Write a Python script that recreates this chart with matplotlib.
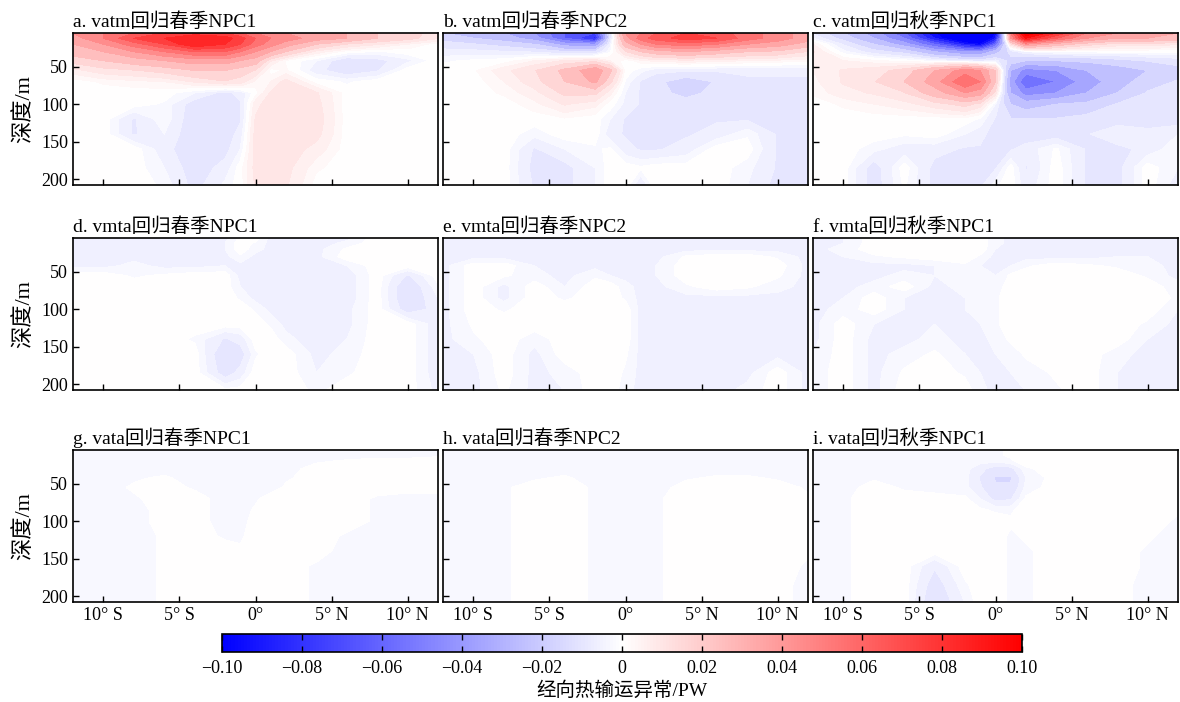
import numpy as np
import matplotlib.pyplot as plt
from matplotlib.colors import Normalize
from matplotlib.cm import ScalarMappable

plt.rcParams['font.family'] = ['Liberation Serif', 'Noto Sans CJK SC']
plt.rcParams['axes.unicode_minus'] = True

# 网格：纬度（负为南纬）和深度 (m)
lats = [-12, -10, -8, -6, -4, -2, -1, 0, 1, 2, 4, 6, 8, 10, 12]
depths = [5, 12, 20, 30, 42, 55, 70, 85, 100, 120, 140, 160, 185, 210]

titles = ['a. vatm回归春季NPC1', 'b. vatm回归春季NPC2', 'c. vatm回归秋季NPC1',
          'd. vmta回归春季NPC1', 'e. vmta回归春季NPC2', 'f. vmta回归秋季NPC1',
          'g. vata回归春季NPC1', 'h. vata回归春季NPC2', 'i. vata回归秋季NPC1']

xtick_vals = [-10, -5, 0, 5, 10]
xtick_labels = ['10° S', '5° S', '0°', '5° N', '10° N']
ytick_vals = [50, 100, 150, 200]
cbar_ticks = [-0.10, -0.08, -0.06, -0.04, -0.02, 0, 0.02, 0.04, 0.06, 0.08, 0.10]
cbar_labels = ['−0.10', '−0.08', '−0.06', '−0.04', '−0.02', '0',
               '0.02', '0.04', '0.06', '0.08', '0.10']

# a. vatm 春季 NPC1
vatm_spring_1 = [
    [0.04, 0.05, 0.06, 0.07, 0.075, 0.07, 0.06, 0.05, 0.045, 0.04, 0.035, 0.03, 0.02, 0.015, 0.01],
    [0.035, 0.05, 0.07, 0.08, 0.09, 0.085, 0.075, 0.06, 0.05, 0.045, 0.035, 0.03, 0.02, 0.015, 0.008],
    [0.03, 0.04, 0.055, 0.07, 0.09, 0.08, 0.07, 0.055, 0.045, 0.035, 0.02, 0.012, 0.008, 0.004, 0.0],
    [0.025, 0.03, 0.04, 0.05, 0.06, 0.06, 0.05, 0.04, 0.03, 0.02, 0.006, 0.0, -0.002, 0.0, 0.0],
    [0.015, 0.02, 0.025, 0.03, 0.035, 0.035, 0.03, 0.025, 0.008, 0.001, -0.004, -0.011, -0.009, -0.005, 0.0],
    [0.006, 0.01, 0.012, 0.015, 0.02, 0.02, 0.016, 0.012, 0.0, 0.002, -0.006, -0.011, -0.008, 0.0, 0.0],
    [0.0, 0.002, 0.003, 0.004, 0.008, 0.012, 0.01, 0.003, 0.004, 0.009, 0.0, -0.002, 0.0, 0.0, 0.0],
    [0.0, 0.0, 0.0, 0.0, -0.004, -0.009, -0.006, 0.0, 0.008, 0.01, 0.008, 0.0, 0.0, 0.0, 0.0],
    [0.0, 0.0, 0.0, -0.002, -0.01, -0.01, -0.008, 0.006, 0.01, 0.01, 0.009, 0.0, 0.0, 0.0, 0.0],
    [0.0, 0.0, -0.008, -0.002, -0.011, -0.01, -0.008, 0.008, 0.011, 0.011, 0.01, 0.0, 0.0, 0.0, 0.0],
    [0.0, 0.0, -0.008, -0.004, -0.011, -0.01, -0.006, 0.009, 0.011, 0.011, 0.009, 0.0, 0.0, 0.0, 0.0],
    [0.0, 0.0, 0.0, -0.006, -0.011, -0.009, -0.004, 0.009, 0.011, 0.01, 0.006, 0.0, 0.0, 0.0, 0.0],
    [0.0, 0.0, 0.0, -0.004, -0.01, -0.006, 0.0, 0.009, 0.01, 0.009, 0.002, 0.0, 0.0, 0.0, 0.0],
    [0.0, 0.0, 0.0, -0.002, -0.009, -0.003, 0.0, 0.008, 0.009, 0.008, 0.0, 0.0, 0.0, 0.0, 0.0],
]

# b. vatm 春季 NPC2
vatm_spring_2 = [
    [-0.02, -0.025, -0.03, -0.04, -0.06, -0.07, -0.01, 0.04, 0.05, 0.06, 0.07, 0.065, 0.055, 0.045, 0.035],
    [-0.015, -0.02, -0.025, -0.035, -0.06, -0.085, -0.01, 0.035, 0.055, 0.065, 0.075, 0.07, 0.055, 0.045, 0.035],
    [-0.01, -0.012, -0.015, -0.02, -0.035, -0.04, -0.005, 0.025, 0.04, 0.05, 0.055, 0.05, 0.04, 0.035, 0.025],
    [-0.006, -0.006, -0.007, -0.008, -0.012, -0.012, -0.002, 0.012, 0.02, 0.025, 0.03, 0.025, 0.02, 0.018, 0.012],
    [-0.002, -0.001, 0.0, 0.004, 0.008, 0.01, 0.004, 0.0, 0.003, 0.005, 0.006, 0.005, 0.004, 0.003, 0.002],
    [0.0, 0.001, 0.006, 0.012, 0.022, 0.038, 0.022, 0.0, -0.003, -0.006, -0.007, -0.007, -0.007, -0.007, -0.007],
    [0.0, 0.0, 0.004, 0.01, 0.02, 0.032, 0.014, -0.002, -0.008, -0.011, -0.016, -0.012, -0.008, -0.008, -0.008],
    [0.0, 0.0, 0.002, 0.006, 0.014, 0.014, 0.005, -0.004, -0.008, -0.009, -0.016, -0.009, -0.008, -0.008, -0.008],
    [0.0, 0.0, 0.0, 0.003, 0.008, 0.005, 0.0, -0.005, -0.008, -0.008, -0.008, -0.008, -0.008, -0.008, -0.008],
    [0.0, 0.0, 0.0, 0.0, 0.001, 0.0, -0.004, -0.008, -0.008, -0.008, -0.008, -0.008, -0.008, -0.008, -0.008],
    [0.0, 0.0, 0.0, -0.003, 0.0, 0.0, -0.006, -0.008, -0.008, -0.008, -0.008, -0.006, -0.002, -0.008, -0.008],
    [0.0, 0.0, 0.0, -0.008, -0.004, -0.002, -0.001, -0.006, -0.008, -0.008, -0.006, 0.0, 0.0, -0.008, -0.008],
    [0.0, 0.0, 0.0, -0.009, -0.009, -0.004, 0.0, 0.0, -0.001, 0.0, 0.0, 0.0, -0.003, -0.008, -0.008],
    [0.0, 0.0, 0.0, -0.008, -0.009, -0.004, 0.0, 0.0, -0.008, 0.0, 0.0, 0.0, -0.004, -0.009, -0.009],
]

# c. vatm 秋季 NPC1
vatm_autumn_1 = [
    [-0.008, -0.02, -0.035, -0.06, -0.1, -0.14, -0.15, -0.1, 0.05, 0.11, 0.08, 0.05, 0.04, 0.035, 0.03],
    [-0.004, -0.015, -0.03, -0.05, -0.09, -0.13, -0.14, -0.09, 0.04, 0.09, 0.06, 0.04, 0.03, 0.03, 0.025],
    [0.004, -0.008, -0.02, -0.035, -0.06, -0.09, -0.1, -0.06, 0.01, 0.04, 0.025, 0.015, 0.01, 0.01, 0.008],
    [0.008, -0.003, -0.01, -0.015, -0.03, -0.04, -0.04, -0.025, -0.01, -0.004, -0.001, -0.001, -0.001, -0.001, -0.001],
    [0.006, 0.004, 0.002, 0.0, -0.004, -0.008, -0.01, -0.006, -0.015, -0.02, -0.02, -0.018, -0.015, -0.012, -0.01],
    [0.004, 0.008, 0.01, 0.015, 0.03, 0.045, 0.04, 0.02, -0.03, -0.045, -0.04, -0.03, -0.025, -0.02, -0.015],
    [0.003, 0.008, 0.012, 0.02, 0.035, 0.06, 0.05, 0.02, -0.035, -0.06, -0.05, -0.035, -0.025, -0.015, -0.012],
    [0.002, 0.006, 0.008, 0.012, 0.025, 0.04, 0.035, 0.01, -0.03, -0.045, -0.04, -0.03, -0.02, -0.012, -0.01],
    [0.0, 0.002, 0.004, 0.006, 0.01, 0.015, 0.01, -0.004, -0.02, -0.025, -0.02, -0.018, -0.012, -0.01, -0.01],
    [0.0, 0.0, 0.0, 0.0, 0.0, 0.0, -0.002, -0.008, -0.012, -0.012, -0.012, -0.01, -0.01, -0.01, -0.01],
    [0.0, 0.0, 0.0, -0.001, 0.0, -0.004, -0.006, -0.01, -0.01, -0.01, -0.01, -0.008, -0.004, -0.006, -0.004],
    [0.0, 0.0, -0.003, -0.006, -0.006, -0.008, -0.008, -0.008, -0.008, -0.006, -0.001, -0.008, -0.009, -0.006, -0.002],
    [0.0, 0.0, -0.01, 0.0, -0.009, -0.009, -0.009, -0.008, 0.0, -0.008, 0.0, -0.008, -0.009, 0.0, -0.004],
    [0.0, 0.0, -0.01, -0.001, -0.009, -0.009, -0.008, -0.002, 0.0, -0.006, 0.0, -0.008, -0.009, 0.0, -0.006],
]

# d. vmta 春季 NPC1
vmta_spring_1 = [
    [-0.006, -0.006, -0.006, -0.006, -0.006, -0.005, -0.001, 0.0, -0.005, -0.006, -0.006, -0.005, 0.0, 0.0, 0.0],
    [-0.006, -0.006, -0.006, -0.006, -0.006, -0.004, 0.0, -0.002, -0.005, -0.006, -0.006, -0.003, 0.0, 0.0, 0.0],
    [-0.006, -0.006, -0.006, -0.006, -0.006, -0.004, 0.0, -0.003, -0.005, -0.006, -0.005, -0.001, 0.0, 0.0, 0.0],
    [-0.006, -0.006, -0.005, -0.006, -0.006, -0.005, -0.002, -0.005, -0.006, -0.006, -0.005, 0.0, 0.0, 0.0, 0.0],
    [-0.005, -0.005, -0.003, -0.005, -0.005, -0.004, -0.005, -0.006, -0.006, -0.006, -0.006, -0.004, 0.0, 0.0, 0.0],
    [0.0, 0.0, -0.002, -0.001, 0.0, 0.0, -0.005, -0.006, -0.006, -0.006, -0.006, -0.006, 0.0, -0.008, 0.0],
    [0.0, 0.0, 0.0, 0.0, 0.0, 0.0, -0.004, -0.006, -0.006, -0.006, -0.006, -0.006, 0.0, -0.012, -0.002],
    [0.0, 0.0, 0.0, 0.0, 0.0, 0.0, -0.002, -0.005, -0.006, -0.006, -0.006, -0.006, 0.0, -0.012, -0.004],
    [0.0, 0.0, 0.0, 0.0, 0.0, 0.0, 0.0, -0.002, -0.005, -0.006, -0.006, -0.005, 0.0, -0.01, -0.006],
    [0.0, 0.0, 0.0, 0.0, 0.0, 0.0, 0.0, 0.0, -0.002, -0.005, -0.006, -0.005, 0.0, 0.0, -0.006],
    [0.0, 0.0, 0.0, 0.0, -0.002, -0.008, -0.006, 0.0, 0.0, -0.003, -0.006, -0.004, 0.0, 0.0, -0.006],
    [0.0, 0.0, 0.0, 0.0, 0.0, -0.012, -0.01, -0.002, 0.0, 0.0, -0.005, -0.003, 0.0, 0.0, -0.006],
    [0.0, 0.0, 0.0, 0.0, 0.0, -0.01, -0.006, 0.0, 0.0, 0.0, -0.004, -0.002, 0.0, 0.0, -0.006],
    [0.0, 0.0, 0.0, 0.0, 0.0, 0.0, 0.0, 0.0, 0.0, 0.0, -0.002, 0.0, 0.0, 0.0, -0.005],
]

# e. vmta 春季 NPC2
vmta_spring_2 = [
    [-0.005, -0.005, -0.005, -0.005, -0.005, -0.005, -0.005, -0.005, -0.005, -0.005, -0.005, -0.005, -0.005, -0.005, -0.005],
    [-0.005, -0.005, -0.005, -0.005, -0.005, -0.005, -0.005, -0.005, -0.005, -0.005, -0.005, -0.005, -0.005, -0.005, -0.005],
    [-0.005, -0.005, -0.005, -0.005, -0.005, -0.005, -0.005, -0.005, -0.005, -0.005, -0.005, -0.005, -0.005, -0.005, -0.005],
    [-0.005, -0.005, -0.005, -0.005, -0.005, -0.005, -0.005, -0.005, -0.005, -0.005, -0.001, 0.0, 0.0, -0.002, -0.005],
    [-0.005, 0.0, 0.0, -0.004, -0.005, -0.005, -0.005, -0.005, -0.005, -0.004, 0.0, 0.0, 0.0, 0.0, -0.005],
    [-0.005, 0.0, -0.001, -0.003, -0.005, -0.002, -0.004, -0.005, -0.005, -0.004, 0.0, 0.0, 0.0, -0.001, -0.005],
    [-0.005, 0.0, -0.005, 0.0, -0.004, 0.0, 0.0, -0.003, -0.005, -0.005, -0.002, 0.0, -0.001, -0.003, -0.005],
    [-0.005, 0.0, -0.005, 0.0, -0.002, 0.0, 0.0, -0.002, -0.005, -0.005, -0.005, -0.005, -0.005, -0.005, -0.005],
    [-0.005, 0.0, -0.002, 0.0, 0.0, 0.0, 0.0, 0.0, -0.005, -0.005, -0.005, -0.005, -0.005, -0.005, -0.005],
    [-0.005, -0.001, 0.0, 0.0, 0.0, 0.0, 0.0, 0.0, -0.005, -0.005, -0.005, -0.005, -0.005, -0.005, -0.005],
    [-0.005, -0.002, 0.0, -0.003, 0.0, 0.0, 0.0, 0.0, -0.005, -0.005, -0.005, -0.005, -0.005, -0.005, -0.005],
    [-0.005, -0.004, 0.0, -0.005, 0.0, 0.0, 0.0, -0.001, -0.005, -0.005, -0.005, -0.005, -0.005, -0.005, -0.005],
    [-0.005, -0.005, 0.0, -0.005, -0.003, 0.0, 0.0, -0.002, -0.005, -0.005, -0.005, -0.005, -0.005, 0.0, -0.005],
    [-0.005, -0.005, -0.001, -0.005, -0.004, 0.0, 0.0, -0.003, -0.005, -0.005, -0.005, -0.005, -0.003, 0.0, -0.005],
]

# f. vmta 秋季 NPC1
vmta_autumn_1 = [
    [-0.005, -0.004, 0.0, 0.0, 0.0, 0.0, 0.0, -0.003, -0.005, -0.005, -0.005, -0.005, -0.005, -0.005, -0.005],
    [-0.005, -0.004, 0.0, 0.0, 0.0, 0.0, 0.0, -0.003, -0.005, -0.005, -0.005, -0.005, -0.005, -0.005, -0.005],
    [-0.005, -0.003, 0.0, 0.0, 0.0, 0.0, 0.0, -0.004, -0.005, -0.005, -0.005, -0.005, -0.005, -0.005, -0.005],
    [-0.005, -0.004, -0.002, -0.001, 0.0, 0.0, -0.002, -0.005, -0.005, -0.005, -0.005, -0.005, -0.004, -0.004, -0.005],
    [-0.005, -0.005, -0.005, -0.005, -0.004, -0.002, -0.004, -0.005, -0.004, -0.002, 0.0, -0.001, -0.002, -0.003, -0.005],
    [-0.005, -0.005, -0.005, -0.003, -0.004, -0.002, -0.003, -0.004, -0.001, 0.0, 0.0, 0.0, 0.0, -0.002, -0.005],
    [-0.005, -0.005, -0.003, 0.0, -0.005, -0.003, -0.002, -0.003, 0.0, 0.0, 0.0, 0.0, 0.0, 0.0, -0.003],
    [-0.005, -0.004, 0.0, -0.004, -0.005, -0.004, -0.002, -0.002, 0.0, 0.0, 0.0, 0.0, 0.0, 0.0, -0.002],
    [-0.005, -0.003, 0.0, -0.004, -0.005, -0.004, -0.003, -0.002, 0.0, 0.0, 0.0, 0.0, 0.0, 0.0, -0.004],
    [-0.005, 0.0, -0.004, -0.005, -0.004, -0.005, -0.004, -0.002, 0.0, 0.0, 0.0, 0.0, 0.0, -0.002, -0.005],
    [-0.005, 0.0, -0.005, -0.005, -0.003, -0.005, -0.005, -0.003, -0.001, 0.0, 0.0, 0.0, 0.0, -0.004, -0.005],
    [-0.004, 0.0, -0.005, -0.003, -0.001, -0.004, -0.005, -0.004, -0.003, -0.001, 0.0, 0.0, -0.003, -0.005, -0.005],
    [-0.003, 0.0, -0.005, -0.001, 0.0, -0.002, -0.004, -0.005, -0.004, -0.003, -0.001, 0.0, -0.004, -0.005, -0.005],
    [-0.003, 0.0, -0.005, 0.0, 0.0, 0.0, -0.003, -0.005, -0.005, -0.004, -0.002, 0.0, -0.004, -0.005, -0.005],
]

# g. vata 春季 NPC1
vata_spring_1 = [
    [-0.003, -0.003, -0.003, -0.003, -0.003, -0.003, -0.003, -0.003, -0.003, -0.003, -0.003, -0.003, -0.003, -0.003, -0.003],
    [-0.003, -0.003, -0.003, -0.003, -0.003, -0.003, -0.003, -0.003, -0.003, -0.003, -0.003, -0.003, -0.003, -0.003, -0.002],
    [-0.003, -0.003, -0.003, -0.003, -0.003, -0.003, -0.003, -0.003, -0.003, -0.003, -0.002, -0.001, 0.0, 0.0, 0.0],
    [-0.003, -0.003, -0.003, -0.003, -0.003, -0.003, -0.003, -0.003, -0.003, -0.003, 0.0, 0.0, 0.0, 0.0, 0.0],
    [-0.003, -0.002, -0.002, -0.001, -0.003, -0.003, -0.003, -0.003, -0.003, -0.002, 0.0, 0.0, 0.0, 0.0, 0.0],
    [-0.003, -0.003, -0.001, 0.0, -0.002, -0.003, -0.003, -0.003, -0.003, -0.001, 0.0, 0.0, 0.0, 0.0, 0.0],
    [-0.003, -0.003, -0.002, 0.0, 0.0, -0.003, -0.003, -0.002, 0.0, 0.0, 0.0, 0.0, -0.002, -0.003, -0.003],
    [-0.003, -0.003, -0.003, 0.0, 0.0, -0.003, -0.003, -0.001, 0.0, 0.0, 0.0, 0.0, -0.002, -0.003, -0.003],
    [-0.003, -0.003, -0.003, 0.0, 0.0, -0.003, -0.003, 0.0, 0.0, 0.0, 0.0, 0.0, -0.002, -0.003, -0.003],
    [-0.003, -0.003, -0.003, -0.001, 0.0, -0.002, -0.002, 0.0, 0.0, 0.0, 0.0, -0.002, -0.002, -0.003, -0.003],
    [-0.003, -0.003, -0.003, -0.001, 0.0, 0.0, -0.001, 0.0, 0.0, 0.0, 0.0, -0.003, -0.002, -0.003, -0.003],
    [-0.003, -0.003, -0.003, -0.001, 0.0, 0.0, 0.0, 0.0, 0.0, 0.0, -0.002, -0.003, -0.002, -0.003, -0.003],
    [-0.003, -0.003, -0.003, -0.001, 0.0, 0.0, 0.0, 0.0, 0.0, 0.0, -0.002, -0.003, -0.002, -0.003, -0.003],
    [-0.003, -0.003, -0.003, -0.001, 0.0, 0.0, 0.0, 0.0, 0.0, 0.0, -0.002, -0.003, -0.002, -0.003, -0.003],
]

# h. vata 春季 NPC2
vata_spring_2 = [
    [-0.003, -0.003, -0.003, -0.003, -0.003, -0.003, -0.003, -0.003, -0.003, -0.003, -0.003, -0.003, -0.003, -0.003, -0.003],
    [-0.003, -0.003, -0.003, -0.003, -0.003, -0.003, -0.003, -0.003, -0.003, -0.003, -0.003, -0.003, -0.003, -0.003, -0.003],
    [-0.003, -0.003, -0.003, -0.003, -0.003, -0.003, -0.003, -0.003, -0.003, -0.003, -0.003, -0.003, -0.003, -0.003, -0.003],
    [-0.003, -0.003, -0.003, -0.003, -0.003, -0.003, -0.003, -0.003, -0.003, -0.003, -0.003, -0.003, -0.003, -0.003, -0.003],
    [-0.003, -0.003, -0.003, -0.002, -0.001, -0.003, -0.003, -0.003, -0.003, -0.003, -0.002, -0.001, -0.001, -0.002, -0.003],
    [-0.003, -0.003, -0.002, 0.0, 0.0, -0.002, -0.003, -0.003, -0.003, -0.003, 0.0, 0.0, 0.0, 0.0, -0.002],
    [-0.003, -0.003, -0.002, 0.0, 0.0, -0.002, -0.003, -0.003, -0.003, -0.002, 0.0, 0.0, 0.0, 0.0, -0.001],
    [-0.003, -0.003, -0.002, 0.0, 0.0, -0.002, -0.003, -0.003, -0.003, -0.002, 0.0, 0.0, 0.0, 0.0, -0.001],
    [-0.003, -0.003, -0.002, 0.0, 0.0, -0.002, -0.003, -0.003, -0.003, -0.002, 0.0, 0.0, 0.0, 0.0, -0.001],
    [-0.003, -0.003, -0.002, 0.0, 0.0, -0.002, -0.003, -0.003, -0.003, -0.002, 0.0, 0.0, 0.0, 0.0, -0.001],
    [-0.003, -0.003, -0.002, 0.0, 0.0, -0.002, -0.003, -0.003, -0.003, -0.002, 0.0, 0.0, 0.0, 0.0, -0.001],
    [-0.003, -0.003, -0.002, 0.0, 0.0, -0.002, -0.003, -0.003, -0.003, -0.002, 0.0, 0.0, 0.0, 0.0, -0.002],
    [-0.003, -0.003, -0.002, 0.0, 0.0, -0.002, -0.003, -0.003, -0.003, -0.002, 0.0, 0.0, 0.0, 0.0, -0.003],
    [-0.003, -0.003, -0.002, 0.0, 0.0, -0.002, -0.003, -0.003, -0.003, -0.002, 0.0, 0.0, 0.0, 0.0, -0.003],
]

# i. vata 秋季 NPC1
vata_autumn_1 = [
    [-0.003, -0.003, -0.003, -0.003, -0.003, -0.003, -0.003, -0.002, -0.001, 0.0, 0.0, 0.0, 0.0, 0.0, 0.0],
    [-0.003, -0.003, -0.003, -0.003, -0.003, -0.003, -0.003, -0.002, -0.001, 0.0, 0.0, 0.0, 0.0, 0.0, 0.0],
    [-0.003, -0.003, -0.003, -0.003, -0.003, -0.003, -0.003, -0.003, -0.002, 0.0, 0.0, 0.0, 0.0, 0.0, 0.0],
    [-0.003, -0.003, -0.003, -0.003, -0.003, -0.003, -0.006, -0.01, -0.009, -0.002, 0.0, 0.0, 0.0, 0.0, 0.0],
    [-0.003, -0.003, -0.002, -0.003, -0.003, -0.003, -0.008, -0.013, -0.013, -0.004, 0.0, 0.0, 0.0, 0.0, 0.0],
    [-0.003, -0.003, 0.0, -0.002, -0.003, -0.003, -0.007, -0.012, -0.012, -0.003, 0.0, 0.0, 0.0, 0.0, 0.0],
    [-0.003, -0.002, 0.0, 0.0, 0.0, -0.001, -0.004, -0.009, -0.008, -0.001, 0.0, 0.0, 0.0, 0.0, 0.0],
    [-0.003, -0.002, 0.0, 0.0, 0.0, 0.0, -0.001, -0.002, -0.002, 0.0, 0.0, 0.0, 0.0, 0.0, -0.001],
    [-0.003, -0.002, 0.0, 0.0, 0.0, 0.0, 0.0, 0.0, -0.001, 0.0, 0.0, 0.0, 0.0, 0.0, -0.002],
    [-0.003, -0.002, 0.0, 0.0, 0.0, 0.0, 0.0, 0.0, -0.002, -0.001, 0.0, 0.0, 0.0, -0.001, -0.003],
    [-0.003, -0.002, 0.0, 0.0, 0.0, 0.0, 0.0, 0.0, -0.002, -0.002, 0.0, 0.0, 0.0, -0.002, -0.003],
    [-0.003, -0.002, 0.0, 0.0, -0.007, 0.0, 0.0, 0.0, -0.002, -0.002, 0.0, 0.0, 0.0, -0.002, -0.003],
    [-0.003, -0.002, 0.0, 0.0, -0.01, -0.002, 0.0, 0.0, -0.002, -0.002, 0.0, 0.0, 0.0, -0.003, -0.003],
    [-0.003, -0.002, 0.0, 0.0, -0.012, -0.004, 0.0, 0.0, -0.002, -0.002, 0.0, 0.0, 0.0, -0.003, -0.003],
]

fields = [vatm_spring_1, vatm_spring_2, vatm_autumn_1,
          vmta_spring_1, vmta_spring_2, vmta_autumn_1,
          vata_spring_1, vata_spring_2, vata_autumn_1]

# 填色等级：零附近细分
levels = [-0.1, -0.09, -0.08, -0.07, -0.06, -0.05, -0.04, -0.03, -0.02, -0.0125,
          -0.0075, -0.004, -0.0015, 0.0015, 0.004, 0.0075, 0.0125,
          0.02, 0.03, 0.04, 0.05, 0.06, 0.07, 0.08, 0.09, 0.1]
norm = Normalize(vmin=-0.1, vmax=0.1)

W, H = 1180, 702
fig = plt.figure(figsize=(W / 100, H / 100), dpi=100)
col_x = [73, 443, 813]
row_top = [33, 238, 450]
aw, ah = 365, 152

for k, (title, z) in enumerate(zip(titles, fields)):
    r, c = divmod(k, 3)
    ax = fig.add_axes([col_x[c] / W, 1 - (row_top[r] + ah) / H, aw / W, ah / H])
    ax.contourf(lats, depths, np.array(z), levels=levels, cmap='bwr', norm=norm, extend='both')
    ax.set_xlim(-12, 12)
    ax.set_ylim(208, 5)
    ax.set_xticks(xtick_vals)
    ax.set_yticks(ytick_vals)
    ax.tick_params(direction='in', length=4, width=1, labelsize=13)
    if r == 2:
        ax.set_xticklabels(xtick_labels)
    else:
        ax.set_xticklabels([])
    if c == 0:
        ax.set_ylabel('深度/m', fontsize=16, labelpad=5)
    else:
        ax.set_yticklabels([])
    for s in ax.spines.values():
        s.set_linewidth(1.2)
    ax.set_title(title, loc='left', fontsize=14, pad=4)

cax = fig.add_axes([222 / W, 1 - 652 / H, 800 / W, 18 / H])
cb = fig.colorbar(ScalarMappable(norm=norm, cmap='bwr'), cax=cax,
                  orientation='horizontal', ticks=cbar_ticks)
cb.ax.set_xticklabels(cbar_labels)
cb.ax.tick_params(direction='in', length=4.5, width=1, top=True, bottom=True,
                  labelsize=13, pad=6)
cb.outline.set_linewidth(1.2)
cb.set_label('经向热输运异常/PW', fontsize=14, labelpad=3)

fig.savefig('out.png', dpi=100)
